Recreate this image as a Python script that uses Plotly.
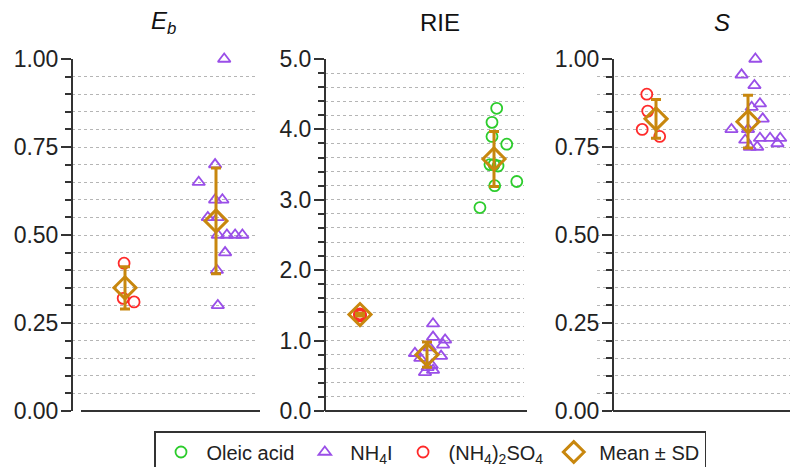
import plotly.graph_objects as go

# ---------------- data ----------------
# group positions on each panel: 1 = (NH4)2SO4, 2 = NH4I, 3 = Oleic acid
eb_as_vals = [0.42, 0.32, 0.31]
eb_as_jit = [-0.01, -0.02, 0.10]
eb_nh4i_vals = [1.00, 0.70, 0.65, 0.60, 0.60, 0.55, 0.55, 0.50, 0.50, 0.50, 0.50, 0.45, 0.40, 0.30]
eb_nh4i_jit = [0.09, -0.01, -0.19, -0.01, 0.07, -0.09, 0.02, 0.02, 0.12, 0.21, 0.29, 0.10, 0.01, 0.02]
eb_mean = [0.35, 0.54]
eb_sd = [0.06, 0.15]

rie_as_vals = [1.38, 1.36, 1.37, 1.35]
rie_as_jit = [0.0, 0.01, -0.01, 0.0]
rie_nh4i_vals = [1.24, 1.05, 1.01, 0.94, 0.90, 0.82, 0.78, 0.75, 0.65, 0.62, 0.58, 0.55]
rie_nh4i_jit = [0.09, 0.09, 0.27, 0.24, 0.04, -0.18, 0.21, -0.10, 0.07, 0.01, 0.09, -0.03]
rie_ole_vals = [4.30, 4.10, 3.90, 3.79, 3.50, 3.48, 3.50, 3.26, 3.20, 2.89]
rie_ole_jit = [0.04, -0.03, -0.03, 0.19, -0.06, 0.06, 0.0, 0.34, 0.01, -0.21]
rie_mean = [1.37, 0.80, 3.58]
rie_sd = [0.02, 0.18, 0.39]

s_as_vals = [0.90, 0.852, 0.80, 0.78]
s_as_jit = [-0.10, -0.09, -0.15, 0.04]
s_nh4i_vals = [1.00, 0.955, 0.925, 0.873, 0.863, 0.83, 0.80, 0.80, 0.775, 0.775, 0.775, 0.76, 0.75, 0.75, 0.77]
s_nh4i_jit = [0.08, -0.07, 0.07, 0.13, 0.04, 0.16, -0.18, 0.0, 0.13, 0.24, 0.35, 0.32, 0.02, 0.10, -0.03]
s_mean = [0.83, 0.822]
s_sd = [0.055, 0.075]

panel_titles = ["<i>E<sub>b</sub></i>", "RIE", "<i>S</i>"]
legend_names = ["Oleic acid", "NH<sub>4</sub>I", "(NH<sub>4</sub>)<sub>2</sub>SO<sub>4</sub>", "Mean ± SD"]

# ---------------- styles ----------------
GREEN = "#2ccc2c"
PURPLE = "#9a4fe8"
RED = "#ff2a2a"
GOLD = "#c8870e"
AXC = "#333333"
W, H = 790, 467
FONT = "Arial, Liberation Sans, sans-serif"


def px(v):
    return v / W


def py(v):
    return 1 - v / H


fig = go.Figure()
shown = set()


def add_points(xa, ya, center, jit, vals, name, rank, symbol, color, size):
    fig.add_trace(go.Scatter(
        x=[center + j for j in jit], y=vals, mode="markers", name=name,
        legendgroup=name, showlegend=name not in shown, legendrank=rank,
        marker=dict(symbol=symbol, size=size, color=color,
                    line=dict(color=color, width=1.8)),
        xaxis=xa, yaxis=ya, cliponaxis=False))
    shown.add(name)


def add_mean(xa, ya, means, sds):
    name = legend_names[3]
    fig.add_trace(go.Scatter(
        x=list(range(1, len(means) + 1)), y=means, mode="markers", name=name,
        legendgroup=name, showlegend=name not in shown, legendrank=4,
        marker=dict(symbol="diamond-open", size=17, color=GOLD, line=dict(color=GOLD, width=3)),
        error_y=dict(type="data", array=sds, color=GOLD, thickness=3, width=5),
        xaxis=xa, yaxis=ya, cliponaxis=False))
    shown.add(name)


# panel 1
add_points("x", "y", 1, eb_as_jit, eb_as_vals, legend_names[2], 3, "circle-open", RED, 11)
add_points("x", "y", 2, eb_nh4i_jit, eb_nh4i_vals, legend_names[1], 2, "triangle-up-open", PURPLE, 11)
add_mean("x", "y", eb_mean, eb_sd)
# panel 2
add_points("x2", "y2", 1, rie_as_jit, rie_as_vals, legend_names[2], 3, "circle-open", RED, 11)
add_points("x2", "y2", 2, rie_nh4i_jit, rie_nh4i_vals, legend_names[1], 2, "triangle-up-open", PURPLE, 11)
add_points("x2", "y2", 3, rie_ole_jit, rie_ole_vals, legend_names[0], 1, "circle-open", GREEN, 11)
add_mean("x2", "y2", rie_mean, rie_sd)
# panel 3
add_points("x3", "y3", 1, s_as_jit, s_as_vals, legend_names[2], 3, "circle-open", RED, 11)
add_points("x3", "y3", 2, s_nh4i_jit, s_nh4i_vals, legend_names[1], 2, "triangle-up-open", PURPLE, 11)
add_mean("x3", "y3", s_mean, s_sd)

ydom = [py(411), py(59)]


def yaxis_cfg(rng, dtick, minor, fmt, pos):
    return dict(
        domain=ydom, range=rng, anchor="free", position=pos,
        tickmode="linear", tick0=0, dtick=dtick, tickformat=fmt,
        ticks="outside", ticklen=10, tickwidth=2, tickcolor=AXC,
        showline=True, linecolor=AXC, linewidth=2, zeroline=False,
        showgrid=True, gridcolor="#b5b5b5", griddash="dot", gridwidth=1,
        tickfont=dict(size=23, color="#222", family=FONT), ticklabelstandoff=-2,
        minor=dict(dtick=minor, tick0=0, ticks="outside", ticklen=6, tickwidth=2, tickcolor=AXC,
                   showgrid=True, gridcolor="#b5b5b5", griddash="dot", gridwidth=1),
    )


def xaxis_cfg(d0, d1, rng):
    return dict(domain=[px(d0), px(d1)], range=rng, showline=False, showgrid=False,
                zeroline=False, showticklabels=False, ticks="", fixedrange=True)


fig.update_layout(
    width=W, height=H, margin=dict(l=0, r=0, t=0, b=0, autoexpand=False),
    paper_bgcolor="white", plot_bgcolor="white",
    font=dict(family=FONT, color="#222"),
    xaxis=xaxis_cfg(72, 257, [1 - 53 / 91, 2 + 41 / 91]),
    xaxis2=xaxis_cfg(325, 524, [1 - 35 / 67, 3 + 30 / 67]),
    xaxis3=xaxis_cfg(597, 790, [1 - 59 / 92, 2 + 42 / 92]),
    yaxis=yaxis_cfg([0, 1], 0.25, 0.05, ".2f", px(72)),
    yaxis2=yaxis_cfg([0, 5], 1.0, 0.2, ".1f", px(325)),
    yaxis3=yaxis_cfg([0, 1], 0.25, 0.05, ".2f", px(613)),
    showlegend=True,
    legend=dict(orientation="h", x=px(154), y=py(431), xanchor="left", yanchor="top",
                bordercolor=AXC, borderwidth=1.5, bgcolor="white", itemwidth=41,
                font=dict(size=20, family=FONT, color="#222"), traceorder="normal"),
)

# x-axis baselines
for x0, x1 in [(81, 260), (325, 527), (613, 790)]:
    fig.add_shape(type="line", xref="paper", yref="paper", x0=px(x0), x1=px(x1),
                  y0=py(411), y1=py(411), line=dict(color=AXC, width=2))

# panel titles
for t, xc in zip(panel_titles, [163, 440, 722]):
    fig.add_annotation(text=t, xref="paper", yref="paper", x=px(xc), y=py(22),
                       xanchor="center", yanchor="middle", showarrow=False,
                       font=dict(size=24, family=FONT, color="#111"))

fig.write_html("out.html")
